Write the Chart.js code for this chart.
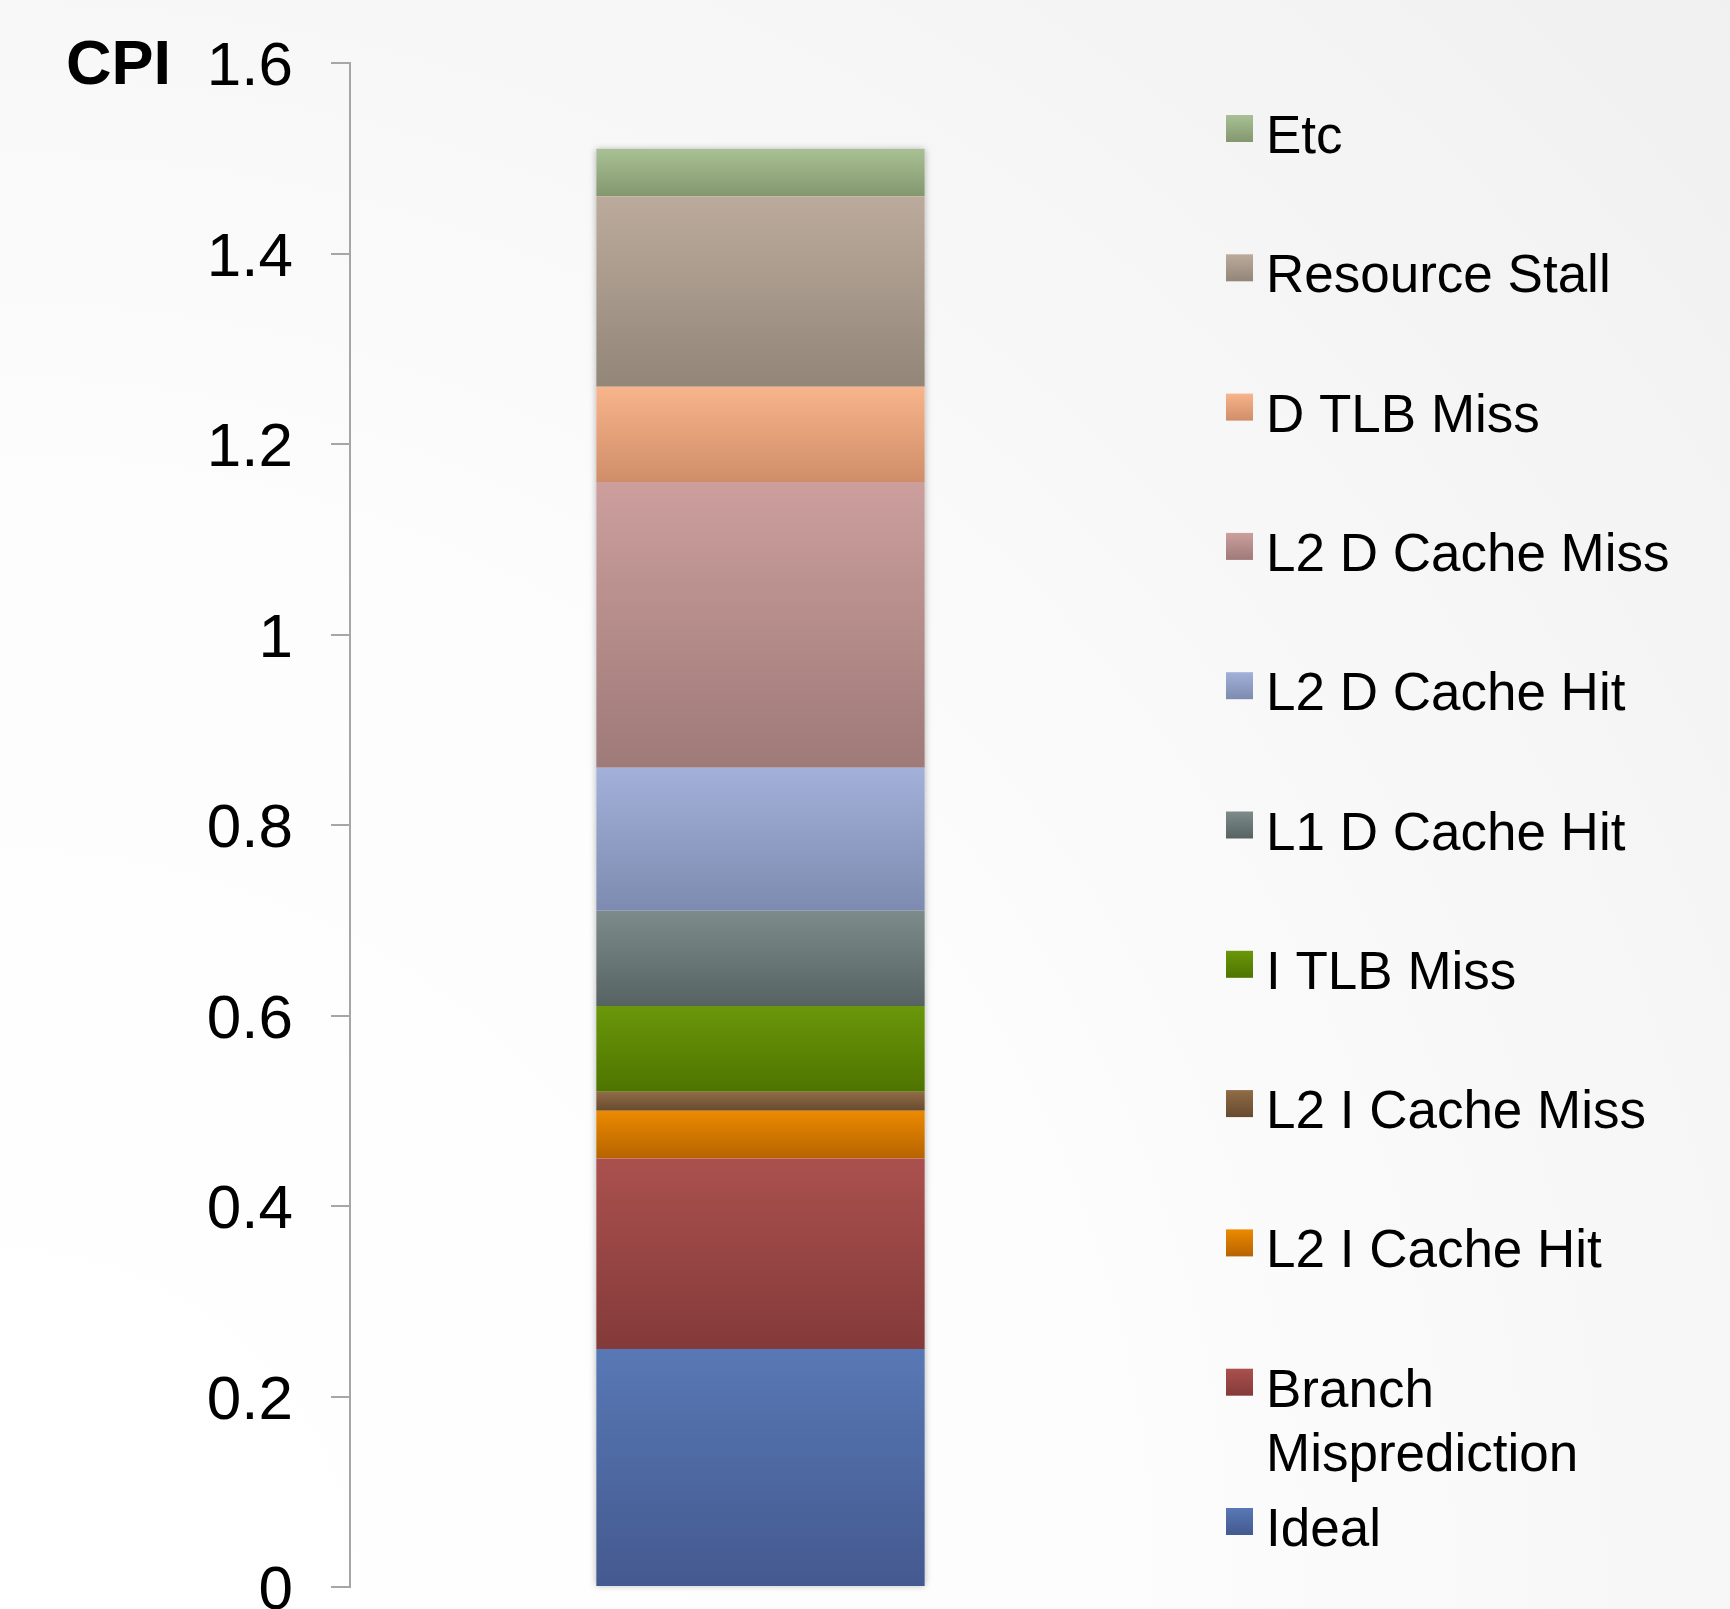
<!DOCTYPE html>
<html>
<head>
<meta charset="utf-8">
<script src="https://cdn.jsdelivr.net/npm/chart.js@4.4.0/dist/chart.umd.min.js"></script>
<style>
  html, body { margin: 0; padding: 0; overflow: hidden; background: #fff; }
  #wrap { width: 1730px; height: 1609px; position: relative; }
</style>
</head>
<body>
<div id="wrap"><canvas id="cpiChart"></canvas></div>
<script>
// CPI breakdown, bottom of the stack first
const components = ['Ideal', 'Branch Misprediction', 'L2 I Cache Hit', 'L2 I Cache Miss', 'I TLB Miss',
  'L1 D Cache Hit', 'L2 D Cache Hit', 'L2 D Cache Miss', 'D TLB Miss', 'Resource Stall', 'Etc'];
const cpiValues = [0.25, 0.20, 0.05, 0.02, 0.09, 0.10, 0.15, 0.30, 0.10, 0.20, 0.05];
const yTicks = [0, 0.2, 0.4, 0.6, 0.8, 1, 1.2, 1.4, 1.6];
const yTickLabels = ['0', '0.2', '0.4', '0.6', '0.8', '1', '1.2', '1.4', '1.6'];

// top / bottom colour of each segment's gradient
const segColors = [
  ['#5878b5', '#44598f'],
  ['#aa514e', '#843a3a'],
  ['#ec8a00', '#b66300'],
  ['#906c46', '#674a2e'],
  ['#6a970a', '#4e7400'],
  ['#7d8b8b', '#576363'],
  ['#a3b1da', '#7d8bb0'],
  ['#cc9f9d', '#9e7a78'],
  ['#f8b58b', '#cf8d69'],
  ['#bcab9d', '#928678'],
  ['#a9c095', '#83976d']
];

const FONT = "'Liberation Sans', Arial, sans-serif";

function segmentFill(ctx) {
  const chart = ctx.chart;
  const i = ctx.datasetIndex;
  const cols = segColors[i];
  if (!chart.chartArea || !chart.scales.y) return cols[0];
  let base = 0;
  for (let j = 0; j < i; j++) base += chart.data.datasets[j].data[0];
  const yTop = chart.scales.y.getPixelForValue(base + chart.data.datasets[i].data[0]);
  const yBot = chart.scales.y.getPixelForValue(base);
  const g = chart.ctx.createLinearGradient(0, yTop, 0, yBot);
  g.addColorStop(0, cols[0]);
  g.addColorStop(1, cols[1]);
  return g;
}

const backdrop = {
  id: 'backdrop',
  beforeDraw(chart) {
    const { ctx, width, height } = chart;
    const g = ctx.createRadialGradient(0, height, 0, 0, height, Math.hypot(width, height));
    g.addColorStop(0, '#ffffff');
    g.addColorStop(0.45, '#fdfdfd');
    g.addColorStop(1, '#f0f0f0');
    ctx.save();
    ctx.fillStyle = g;
    ctx.fillRect(0, 0, width, height);
    ctx.restore();
  }
};

// soft shadow behind the whole stack
const stackShadow = {
  id: 'stackShadow',
  beforeDatasetsDraw(chart) {
    const n = chart.data.datasets.length;
    const first = chart.getDatasetMeta(0).data[0];
    const last = chart.getDatasetMeta(n - 1).data[0];
    if (!first || !last) return;
    const ctx = chart.ctx;
    ctx.save();
    ctx.shadowColor = 'rgba(0,0,0,0.28)';
    ctx.shadowBlur = 7;
    ctx.fillStyle = '#ffffff';
    ctx.fillRect(first.x - first.width / 2, last.y, first.width, first.base - last.y);
    ctx.restore();
  }
};

const cpiTitle = {
  id: 'cpiTitle',
  afterDraw(chart) {
    const ctx = chart.ctx;
    ctx.save();
    ctx.font = 'bold 63px ' + FONT;
    ctx.fillStyle = '#000';
    ctx.textBaseline = 'alphabetic';
    ctx.fillText('CPI', 66, 84);
    ctx.restore();
  }
};

// legend on the right, top item = top segment
const sideLegend = {
  id: 'sideLegend',
  afterDraw(chart) {
    const ctx = chart.ctx;
    const sets = chart.data.datasets;
    const boxX = 1226, box = 27, textX = 1266, top0 = 115, step = 139.3, lineH = 64, maxW = 430;
    ctx.save();
    ctx.font = '53px ' + FONT;
    ctx.fillStyle = '#000';
    ctx.textBaseline = 'alphabetic';
    for (let k = 0; k < sets.length; k++) {
      const i = sets.length - 1 - k;
      const y = top0 + k * step;
      const g = ctx.createLinearGradient(0, y, 0, y + box);
      g.addColorStop(0, segColors[i][0]);
      g.addColorStop(1, segColors[i][1]);
      ctx.fillStyle = g;
      ctx.fillRect(boxX, y, box, box);
      // simple word wrap
      const words = sets[i].label.split(' ');
      const lines = [];
      let cur = '';
      for (const w of words) {
        const t = cur ? cur + ' ' + w : w;
        if (cur && ctx.measureText(t).width > maxW) { lines.push(cur); cur = w; } else cur = t;
      }
      lines.push(cur);
      ctx.fillStyle = '#000';
      lines.forEach((ln, li) => ctx.fillText(ln, textX, y + 38 + li * lineH));
    }
    ctx.restore();
  }
};

const datasets = components.map((name, i) => ({
  label: name,
  data: [cpiValues[i]],
  backgroundColor: segmentFill,
  borderWidth: 0,
  barPercentage: 0.4,
  categoryPercentage: 1.0
}));

new Chart(document.getElementById('cpiChart').getContext('2d'), {
  type: 'bar',
  data: { labels: [''], datasets: datasets },
  options: {
    responsive: true,
    maintainAspectRatio: false,
    animation: false,
    layout: { padding: { left: 0, right: 559, top: 63, bottom: 22 } },
    plugins: { legend: { display: false }, tooltip: { enabled: false } },
    scales: {
      x: { stacked: true, display: false },
      y: {
        stacked: true,
        min: 0,
        max: 1.6,
        afterBuildTicks: s => { s.ticks = yTicks.map(v => ({ value: v })); },
        afterFit: s => { s.width = 350; s.paddingTop = 0; s.paddingBottom = 0; },
        ticks: {
          color: '#000',
          padding: 38,
          labelOffset: 5,
          font: { family: FONT, size: 62 },
          callback: (v, idx) => yTickLabels[idx]
        },
        grid: { drawOnChartArea: false, tickLength: 19, color: '#a6a6a6', lineWidth: 2 },
        border: { display: true, color: '#a6a6a6', width: 2 }
      }
    }
  },
  plugins: [backdrop, stackShadow, cpiTitle, sideLegend]
});
</script>
</body>
</html>
